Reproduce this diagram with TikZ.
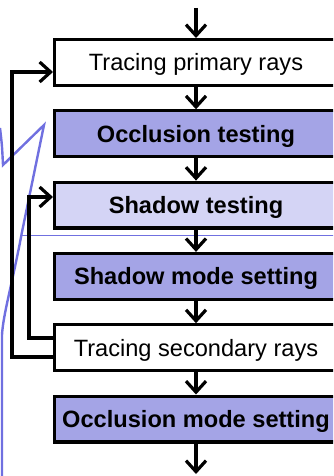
\documentclass[tikz,border=0pt]{standalone}
\usepackage{fontspec}
\setmainfont{Liberation Sans}
\usetikzlibrary{arrows.meta}
\definecolor{darkfill}{RGB}{164,164,230}
\definecolor{lightfill}{RGB}{212,212,245}
\definecolor{callblue}{RGB}{112,112,224}
\begin{document}
\begin{tikzpicture}[x=1pt,y=-1pt,
  box/.style={draw=black,line width=3.2pt,minimum width=282.8pt,minimum height=45.8pt,
    inner sep=0pt,text height=16.9pt,text depth=0pt,font=\fontsize{23.6}{28}\selectfont},
  plainbox/.style={box,fill=white},
  darkbox/.style={box,fill=darkfill,font=\fontsize{23.6}{28}\selectfont\bfseries},
  lightbox/.style={box,fill=lightfill,font=\fontsize{23.6}{28}\selectfont\bfseries},
  arr/.style={line width=3.2pt,-{Straight Barb[length=11pt,width=20pt,line width=3.2pt]}},
  loopline/.style={arr},
  callout/.style={draw=callblue,line width=2.4pt},
  guide/.style={draw=callblue,line width=1pt}]
\useasboundingbox (0,0) rectangle (333,476);
\clip (0,0) rectangle (333,476);
% callout outline
\draw[callout] (0,128) .. controls (2,145) .. (3,165) -- (44,125) -- (22,232)
  .. controls (12,285) and (3,315) .. (2,335) -- (2,478);
\draw[guide] (21,235) -- (340,235);
% boxes
\node[plainbox] (b1) at (196,62.5) {Tracing primary rays};
\node[darkbox]  (b2) at (196,133.8) {Occlusion testing};
\node[lightbox] (b3) at (196,205.1) {Shadow testing};
\node[darkbox]  (b4) at (196,276.4) {Shadow mode setting};
\node[plainbox] (b5) at (196,347.7) {Tracing secondary rays};
\node[darkbox]  (b6) at (196,419) {Occlusion mode setting};
\coordinate (top) at (196,8);
\coordinate (bot) at (196,474);
% arrows
\draw[arr] (top) -- (b1);
\draw[arr] (b1) -- (b2);
\draw[arr] (b2) -- (b3);
\draw[arr] (b3) -- (b4);
\draw[arr] (b4) -- (b5);
\draw[arr] (b5) -- (b6);
\draw[arr] (b6) -- (bot);
% loops
\draw[loopline] ([yshift=-9.3pt]b5.west) -- ++(-41,0) |- ([yshift=-9.5pt]b1.west);
\draw[loopline] ([yshift=9.7pt]b5.west) -- ++(-24,0) |- ([yshift=8.1pt]b3.west);
\end{tikzpicture}
\end{document}
